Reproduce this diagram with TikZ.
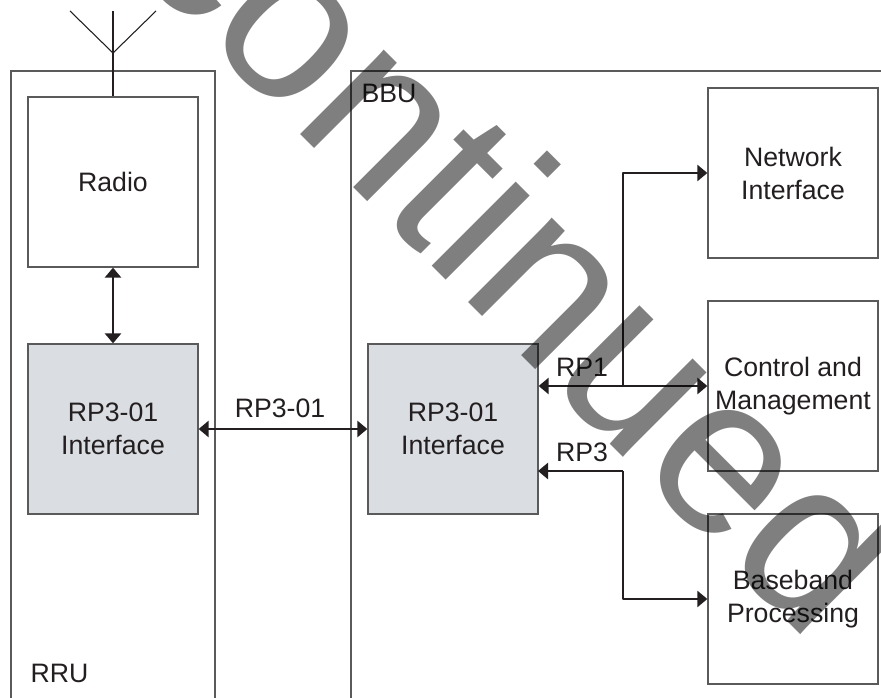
\documentclass[tikz,border=0pt]{standalone}
\usepackage{fontspec}
\setmainfont{Liberation Sans}
\usetikzlibrary{arrows.meta}
\definecolor{ink}{HTML}{231F20}
\definecolor{edge}{HTML}{5A5A5A}
\definecolor{ifill}{HTML}{DADDE2}
\tikzset{
  x=0.75pt,y=-0.75pt,
  unit/.style={draw=edge,line width=0.95pt,minimum width=127.5pt,minimum height=127.5pt,inner sep=0pt,
    align=center,text=ink,font=\fontsize{20}{24.75}\selectfont},
  ifbox/.style={unit,fill=ifill},
  frameline/.style={draw=edge,line width=0.95pt},
  thin line/.style={draw=ink,line width=0.8pt},
  link/.style={draw=ink,line width=1.9pt,{Triangle[length=7.5pt,width=12pt]}-{Triangle[length=7.5pt,width=12pt]}},
  linkone/.style={draw=ink,line width=1.9pt,line join=round,-{Triangle[length=7.5pt,width=12pt]}},
  caption/.style={text=ink,inner sep=0pt,font=\fontsize{20}{24.75}\selectfont},
}
\begin{document}
\begin{tikzpicture}
\useasboundingbox (0,0) rectangle (881,698);
\clip (0,0) rectangle (881,698);
\fill[white] (0,0) rectangle (881,698);
% frames
\draw[frameline] (11,698) -- (11,71) -- (215,71) -- (215,698);
\draw[frameline] (351,698) -- (351,71) -- (881,71);
% blocks
\node[unit]  (radio) at (113,182) {Radio};
\node[ifbox] (rif)   at (113,429) {RP3-01\\Interface};
\node[ifbox] (bif)   at (453,429) {RP3-01\\Interface};
\node[unit]  (net)   at (793,173) {Network\\Interface};
\node[unit]  (ctrl)  at (793,386) {Control and\\Management};
\node[unit]  (base)  at (793,599) {Baseband\\Processing};
% antenna
\coordinate (mastTop) at (113,11);
\coordinate (mastJoin) at (113,53);
\coordinate (armL) at (70,11);
\coordinate (armR) at (156,11);
\draw[thin line] (mastTop) -- (radio.north);
\draw[thin line] (armL) -- (mastJoin) -- (armR);
% connectors
\draw[link,line width=2.2pt] (radio.south) -- (rif.north);
\draw[link] (rif.east) -- (bif.west);
\draw[link] (bif.east |- ctrl.west) -- (ctrl.west);
\coordinate (j1) at (623,386);
\coordinate (j3) at (623,471);
\coordinate (b3) at (538,471);
\draw[linkone,line width=1.6pt] (j1) -- (j1 |- net.west) -- (net.west);
\draw[linkone] (j3) -- (b3);
\draw[linkone,line width=1.6pt] (j3) -- (j3 |- base.west) -- (base.west);
% labels
\node[caption] (lrp)  at (280,408) {RP3-01};
\node[caption] (lrp1) at (582,367) {RP1};
\node[caption] (lrp3) at (582,452) {RP3};
\node[caption] (lbbu) at (389,93) {BBU};
\node[caption] (lrru) at (59.5,673) {RRU};
% overprint
\node[anchor=base west,rotate=-45,inner sep=0pt,text=black,text opacity=0.5,
  font=\fontsize{168.75}{170}\selectfont] (wm) at (121,-45) {continued};
\end{tikzpicture}
\end{document}
